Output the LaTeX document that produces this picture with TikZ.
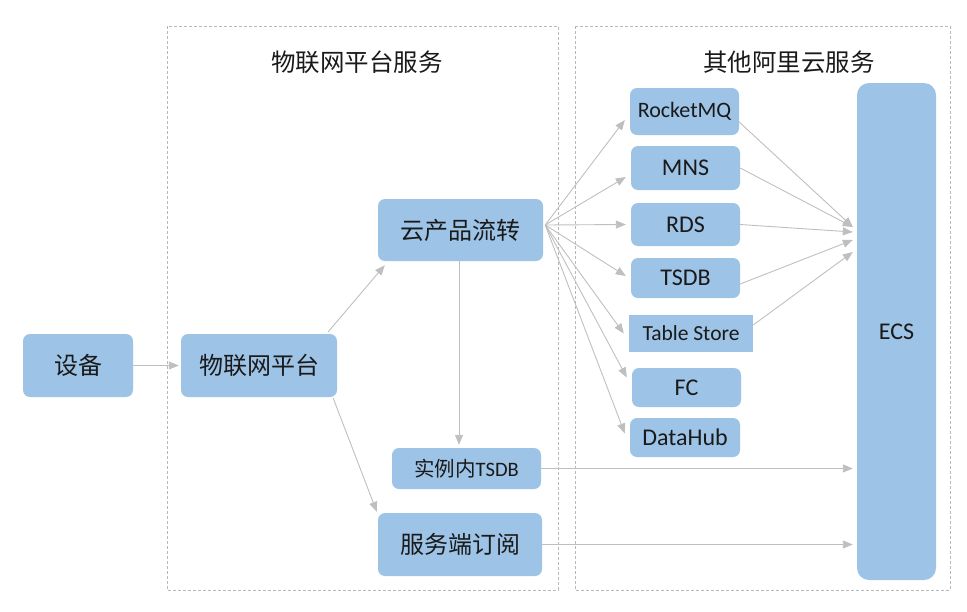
\documentclass[tikz,border=0pt]{standalone}
\usepackage{fontspec}
\setmainfont{Carlito}
\newfontfamily\cjk{Noto Sans CJK SC}
\usetikzlibrary{arrows.meta,calc}
\definecolor{boxblue}{HTML}{9DC3E6}
\definecolor{linegray}{HTML}{BFBFBF}
\definecolor{framegray}{HTML}{B8B8B8}
\definecolor{ink}{HTML}{1A1A1A}
\tikzset{
  svc/.style={fill=boxblue,rounded corners=7pt,inner sep=0pt,text=ink,font=\fontsize{24}{28}\selectfont},
  zh/.style={font=\cjk\fontsize{24}{28}\selectfont},
  arr/.style={draw=linegray,line width=0.9pt,-{Triangle[length=10pt,width=8pt]}},
  frame/.style={draw=framegray,line width=0.6pt,dash pattern=on 3pt off 2pt}
}

\begin{document}
\begin{tikzpicture}[x=1pt,y=-1pt]
  \useasboundingbox (0,0) rectangle (967,611);
  \draw[frame] (167,26) rectangle (558,590);
  \draw[frame] (575,26) rectangle (950,590);
  \node[text=ink,font=\cjk\fontsize{24.5}{28}\selectfont] (ttl1) at (357,62) {物联网平台服务};
  \node[text=ink,font=\cjk\fontsize{24.5}{28}\selectfont] (ttl2) at (789,62) {其他阿里云服务};
  % platform side
  \node[svc,zh,minimum width=110pt,minimum height=63pt] (dev) at (78,365.5) {设备};
  \node[svc,zh,minimum width=156pt,minimum height=63pt] (iot) at (259,365.5) {物联网平台};
  \node[svc,zh,minimum width=165pt,minimum height=62pt] (yun) at (460.5,230) {云产品流转};
  \node[svc,minimum width=149pt,minimum height=41pt,font=\fontsize{20.5}{24}\selectfont] (inst) at (466.5,468.5) {{\cjk 实例内}TSDB};
  \node[svc,zh,minimum width=164pt,minimum height=63pt] (sub) at (460,544.5) {服务端订阅};
  % other cloud services
  \node[svc,minimum width=109pt,minimum height=47pt,font=\fontsize{22}{26}\selectfont] (rmq) at (684.5,111.5) {RocketMQ};
  \node[svc,minimum width=109pt,minimum height=44pt] (mns) at (685.5,168) {MNS};
  \node[svc,minimum width=109pt,minimum height=43pt] (rds) at (685.5,224.5) {RDS};
  \node[svc,minimum width=109pt,minimum height=40pt] (tsdb) at (685.5,278) {TSDB};
  \node[svc,sharp corners,minimum width=124pt,minimum height=37pt,font=\fontsize{21.5}{25}\selectfont] (ts) at (691,333.5) {Table Store};
  \node[svc,minimum width=109pt,minimum height=39pt] (fc) at (686.5,387.5) {FC};
  \node[svc,minimum width=110pt,minimum height=39pt] (dh) at (685,437.5) {DataHub};
  \node[svc,rounded corners=12pt,minimum width=79pt,minimum height=497pt] (ecs) at (896.5,331.5) {ECS};
  % connectors
  \draw[arr] (dev.east) -- ([xshift=-2pt]iot.west);
  \draw[arr] ([xshift=-9pt,yshift=2pt]iot.north east) -- ([xshift=7pt,yshift=-4pt]yun.south west);
  \draw[arr] ([xshift=-4pt,yshift=-1pt]iot.south east) -- ([xshift=-1pt,yshift=1pt]sub.north west);
  \draw[arr] ([xshift=-1.5pt]yun.south) -- ($([xshift=-1.5pt]yun.south |- inst.north)+(0,-3)$);
  \coordinate (fan) at ([xshift=2pt,yshift=5pt]yun.east);
  \foreach \n/\dy in {rmq/-8.5,mns/-9,rds/0,tsdb/2,ts/0,fc/10,dh/4}
    \draw[arr] (fan) -- ([xshift=-5pt,yshift=\dy pt]\n.west);
  \foreach \n/\sy/\ty in {rmq/-10.5/227,mns/0/227,rds/0/232,tsdb/-6/240,ts/8.5/252}
    \draw[arr] ([yshift=\sy pt]\n.east) -- ($(ecs.west |- 0,\ty)+(-4,0)$);
  \draw[arr] (inst.east) -- ($(ecs.west |- inst.east)+(-4,0)$);
  \draw[arr] (sub.east) -- ($(ecs.west |- sub.east)+(-4,0)$);
\end{tikzpicture}
\end{document}
